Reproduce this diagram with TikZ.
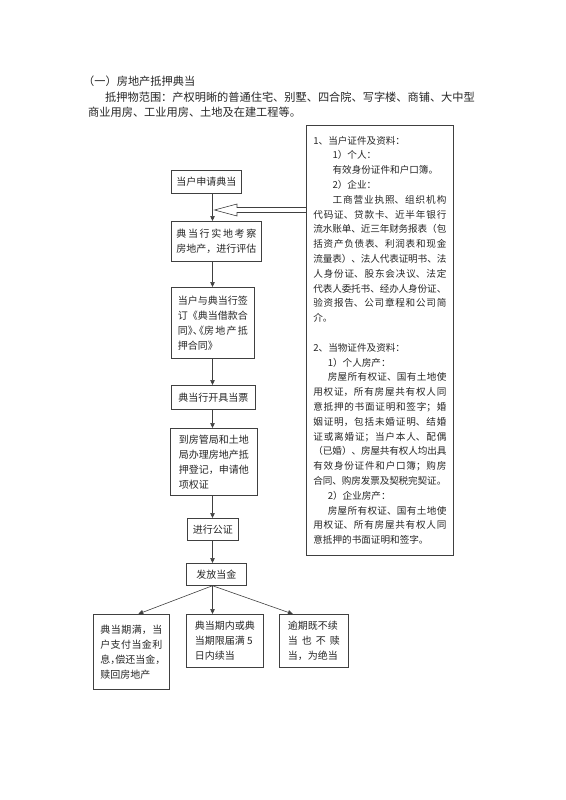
\documentclass[tikz,border=0pt]{standalone}
\usepackage{fontspec}
\setmainfont{Noto Sans CJK SC}
\newfontfamily\halbzeichen[RawFeature=+halt]{Noto Sans CJK SC}
\usetikzlibrary{arrows.meta,calc}
\XeTeXlinebreaklocale "zh"
\XeTeXlinebreakskip=0pt plus 3pt minus 1pt
\XeTeXlinebreakpenalty=0
\tolerance=10000
\hbadness=10000
\definecolor{linie}{gray}{0.25}
\definecolor{schrift}{gray}{0.15}
\tikzset{
  kasten/.style={draw=linie, line width=0.7pt, text=schrift, anchor=north west,
    font=\fontsize{10}{15}\selectfont, align=justify},
  kurzkasten/.style={kasten, align=center, inner xsep=0pt, inner ysep=0pt},
  pfeil/.style={draw=linie, line width=0.6pt, -{Triangle[length=5pt,width=4.5pt]}},
  zeile/.style={anchor=west, inner sep=0pt, text=schrift, font=\fontsize{11.2}{14}\selectfont}
}
\begin{document}
\begin{tikzpicture}[x=1pt,y=-1pt]
    \useasboundingbox (0,0) rectangle (565,800);
    
    % Ueberschrift
    \node[zeile] (titel) at (83,81) {（一）房地产抵押典当};
    \node[zeile] (umfang) at (105,97) {抵押物范围：产权明晰的普通住宅、别墅、四合院、写字楼、商铺、大中型};
    \node[zeile] (umfang2) at (88,112) {商业用房、工业用房、土地及在建工程等。};
    
    % Ablauf
    \coordinate (spine) at (212.5,0);
    \node[kurzkasten, minimum width=70, minimum height=23] (antrag) at (171,170) {当户申请典当};
    \node[kasten, text width=80, inner xsep=5, minimum height=40] (pruefung) at (171,221)
        {典当行实地考察\linebreak 房地产，进行评估};
    \node[kasten, text width=70, inner xsep=6.5, minimum height=71] (vertrag) at (171,287)
        {当户与典当行签\linebreak 订《典当借款合\linebreak 同{\halbzeichen 》、《}房地产抵\linebreak 押合同》};
    \node[kurzkasten, minimum width=84, minimum height=24] (pfandschein) at (171,385) {典当行开具当票};
    \node[kasten, text width=70, inner xsep=8.5, minimum height=67] (registrierung) at (170,428)
        {到房管局和土地\linebreak 局办理房地产抵\linebreak 押登记，申请他\\ 项权证};
    \node[kurzkasten, minimum width=51, minimum height=22] (notar) at (187,518) {进行公证};
    \node[kurzkasten, minimum width=60, minimum height=22] (auszahlung) at (186,563) {发放当金};
    
    % Ende der Laufzeit
    \node[kasten, text width=62, inner xsep=7, minimum height=75] (ablauf) at (93,614)
        {典当期满，当\linebreak 户支付当金利\linebreak 息{\halbzeichen ，}偿还当金{\halbzeichen ，}\\ 赎回房地产};
    \node[kasten, text width=60, inner xsep=8.5, minimum height=53] (verlaengerung) at (186,614)
        {典当期内或典\linebreak 当期限届满 5\\ 日内续当};
    \node[kasten, text width=52, inner xsep=8.5, minimum height=53] (verfall) at (279,614)
        {逾期既不续\\ 当\hfill 也\hfill 不\hfill 赎\\ 当，为绝当};
    
    % Unterlagen
    \node[kasten, text width=133, inner xsep=7, minimum height=430,
          font=\fontsize{9.6}{14.8}\selectfont] (unterlagen) at (306,125)
        {1、当户证件及资料：\\
        \hspace*{2em}1）个人：\\
        \hspace*{2em}有效身份证件和户口簿。\\
        \hspace*{2em}2）企业：\\
        \hspace*{2em}工商营业执照、组织机构\linebreak
        代码证、贷款卡、近半年银行\linebreak
        流水账单、近三年财务报表（包\linebreak
        括资产负债表、利润表和现金\linebreak
        流量表）、法人代表证明书、法\linebreak
        人身份证、股东会决议、法定\linebreak
        代表人委托书、经办人身份证、\linebreak
        验资报告、公司章程和公司简\linebreak
        介。\\ \mbox{}\\
        2、当物证件及资料：\\
        \hspace*{1.5em}1）个人房产：\\
        \hspace*{1.5em}房屋所有权证、国有土地使\linebreak
        用权证，所有房屋共有权人同\linebreak
        意抵押的书面证明和签字；婚\linebreak
        姻证明，包括未婚证明、结婚\linebreak
        证或离婚证；当户本人、配偶\linebreak
        （已婚）、房屋共有权人均出具\linebreak
        有效身份证件和户口簿；购房\linebreak
        合同、购房发票及契税完契证。\\
        \hspace*{1.5em}2）企业房产：\\
        \hspace*{1.5em}房屋所有权证、国有土地使\linebreak
        用权证、所有房屋共有权人同\linebreak
        意抵押的书面证明和签字。};
    
    % Pfeile
    \foreach \a/\b in {antrag/pruefung, pruefung/vertrag, vertrag/pfandschein,
                       pfandschein/registrierung, registrierung/notar, notar/auszahlung}
    {
        \draw[pfeil] (\a.south -| spine) -- (\b.north -| spine);
    }
    \draw[pfeil] (auszahlung.south -| spine) -- ($(ablauf.north west)!.59!(ablauf.north east)$);
    \draw[pfeil] (auszahlung.south -| spine) -- (verlaengerung.north -| spine);
    \draw[pfeil] (auszahlung.south -| spine) -- ($(verfall.north west)!.2!(verfall.north east)$);
    
    % Hohlpfeil
    \coordinate (spitze) at (214.5,210);
    \draw[linie, line width=0.6pt] (unterlagen.west |- 0,207.5) -- (237,207.5) -- (237,204)
        -- (spitze) -- (237,216) -- (237,212.5) -- (unterlagen.west |- 0,212.5);
\end{tikzpicture}
\end{document}
